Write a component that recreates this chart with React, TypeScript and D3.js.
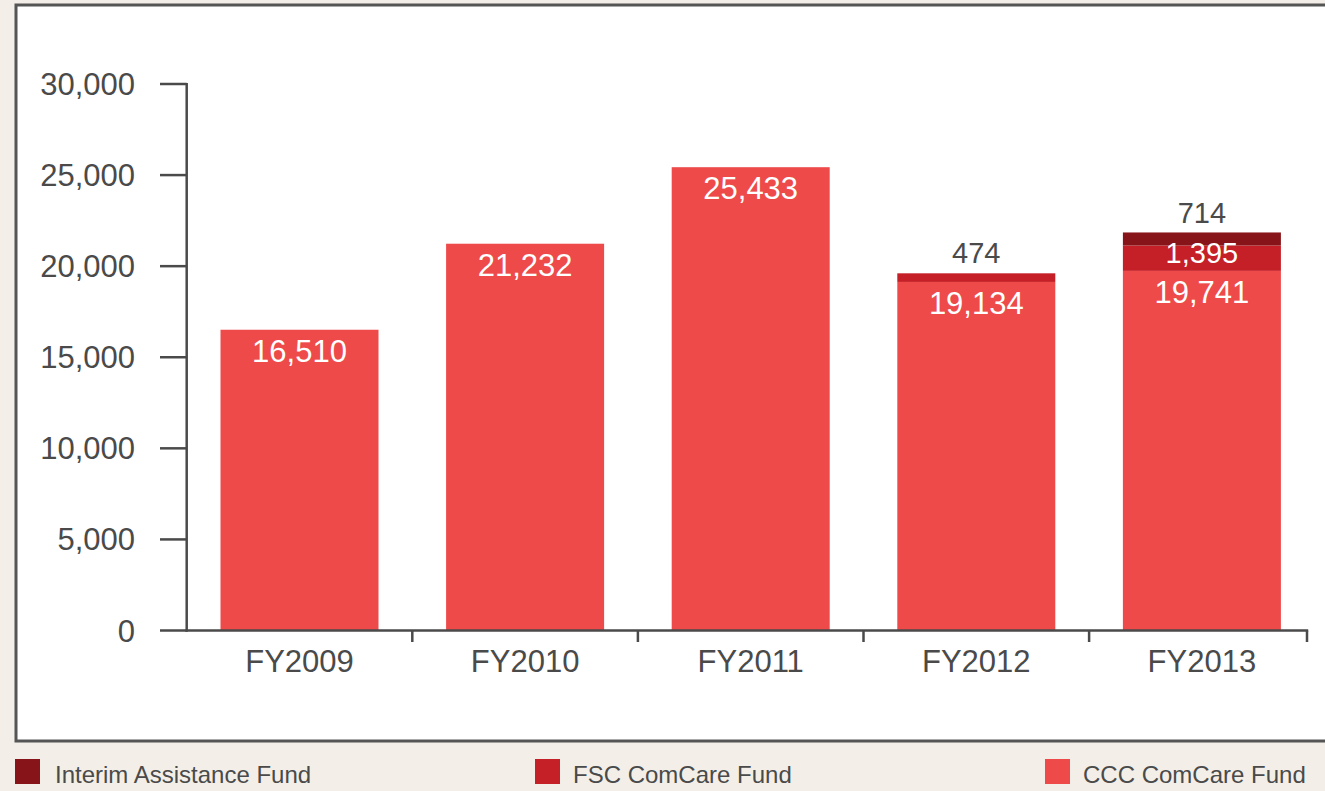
import React from "react";
import * as d3 from "d3";

const categories = ["FY2009", "FY2010", "FY2011", "FY2012", "FY2013"];
const cccValues = [16510, 21232, 25433, 19134, 19741];
const fscValues = [0, 0, 0, 474, 1395];
const interimValues = [0, 0, 0, 0, 714];
const yTicks = [0, 5000, 10000, 15000, 20000, 25000, 30000];
const seriesNames = ["Interim Assistance Fund", "FSC ComCare Fund", "CCC ComCare Fund"];

const COLORS: Record<string, string> = {
  ccc: "#ee4a4a",
  fsc: "#c52027",
  interim: "#861418",
};
const TEXT = "#4a4a4a";
const FONT = "'Liberation Sans', Arial, Helvetica, sans-serif";

export default function App() {
  const W = 1325;
  const H = 791;
  const x0 = 186.7;
  const axisEnd = 1307;
  const yBase = 630.5;
  const yTop = 84;

  const x = d3.scaleBand<string>().domain(categories).range([x0, x0 + 5 * 225.6]).padding(0);
  const y = d3.scaleLinear().domain([0, 30000]).range([yBase, yTop]);
  const barW = 158;
  const fmt = d3.format(",");

  const rows = categories.map((c, i) => ({
    cat: c,
    ccc: cccValues[i],
    fsc: fscValues[i],
    interim: interimValues[i],
  }));
  const stack = d3.stack<any>().keys(["ccc", "fsc", "interim"])(rows);

  const legendItems = [
    { name: seriesNames[0], color: COLORS.interim, x: 15, tx: 55 },
    { name: seriesNames[1], color: COLORS.fsc, x: 535, tx: 573 },
    { name: seriesNames[2], color: COLORS.ccc, x: 1045, tx: 1083 },
  ];

  return (
    <svg
      width={W}
      height={H}
      style={{ position: "absolute", left: 0, top: 0, background: "#f3efe8" }}
      fontFamily={FONT}
    >
      <rect x={16} y={5} width={1340} height={736} fill="#ffffff" stroke="#555555" strokeWidth={3} />

      {stack.map((layer) =>
        layer.map((d, i) => {
          const v = d[1] - d[0];
          if (v <= 0) return null;
          const cx = (x(categories[i]) as number) + x.bandwidth() / 2;
          return (
            <rect
              key={layer.key + i}
              x={cx - barW / 2}
              y={y(d[1])}
              width={barW}
              height={y(d[0]) - y(d[1])}
              fill={COLORS[layer.key as string]}
            />
          );
        })
      )}

      {/* value labels */}
      {rows.map((r, i) => {
        const cx = (x(r.cat) as number) + x.bandwidth() / 2;
        const labels: any[] = [];
        labels.push(
          <text key="c" x={cx} y={y(r.ccc) + 32} textAnchor="middle" fontSize={31} fill="#ffffff">
            {fmt(r.ccc)}
          </text>
        );
        if (r.fsc > 0 && r.interim === 0) {
          labels.push(
            <text key="f" x={cx} y={y(r.ccc + r.fsc) - 10} textAnchor="middle" fontSize={29} fill={TEXT}>
              {fmt(r.fsc)}
            </text>
          );
        } else if (r.fsc > 0) {
          labels.push(
            <text key="f" x={cx} y={y(r.ccc + r.fsc) + 18} textAnchor="middle" fontSize={29} fill="#ffffff">
              {fmt(r.fsc)}
            </text>
          );
        }
        if (r.interim > 0) {
          labels.push(
            <text key="n" x={cx} y={y(r.ccc + r.fsc + r.interim) - 9} textAnchor="middle" fontSize={29} fill={TEXT}>
              {fmt(r.interim)}
            </text>
          );
        }
        return <g key={r.cat}>{labels}</g>;
      })}

      {/* y axis */}
      <line x1={x0} x2={x0} y1={yTop - 1} y2={yBase + 1.2} stroke={TEXT} strokeWidth={2.5} />
      {yTicks.map((t) => (
        <g key={t}>
          <line x1={160} x2={x0} y1={y(t)} y2={y(t)} stroke={TEXT} strokeWidth={2.5} />
          <text x={135} y={y(t) + 11} textAnchor="end" fontSize={31} fill={TEXT}>
            {fmt(t)}
          </text>
        </g>
      ))}

      {/* x axis */}
      <line x1={x0 - 1.2} x2={axisEnd + 1.2} y1={yBase} y2={yBase} stroke={TEXT} strokeWidth={2.5} />
      {categories.map((c, i) => {
        const right = i === categories.length - 1 ? axisEnd : (x(c) as number) + x.bandwidth();
        return <line key={"t" + c} x1={right} x2={right} y1={yBase} y2={642} stroke={TEXT} strokeWidth={2.5} />;
      })}
      {categories.map((c) => (
        <text
          key={"l" + c}
          x={(x(c) as number) + x.bandwidth() / 2}
          y={672}
          textAnchor="middle"
          fontSize={31}
          fill={TEXT}
        >
          {c}
        </text>
      ))}

      {/* legend */}
      {legendItems.map((l) => (
        <g key={l.name}>
          <rect x={l.x} y={759} width={25} height={25} fill={l.color} />
          <text x={l.tx} y={783} fontSize={24} fill={TEXT}>
            {l.name}
          </text>
        </g>
      ))}
    </svg>
  );
}
